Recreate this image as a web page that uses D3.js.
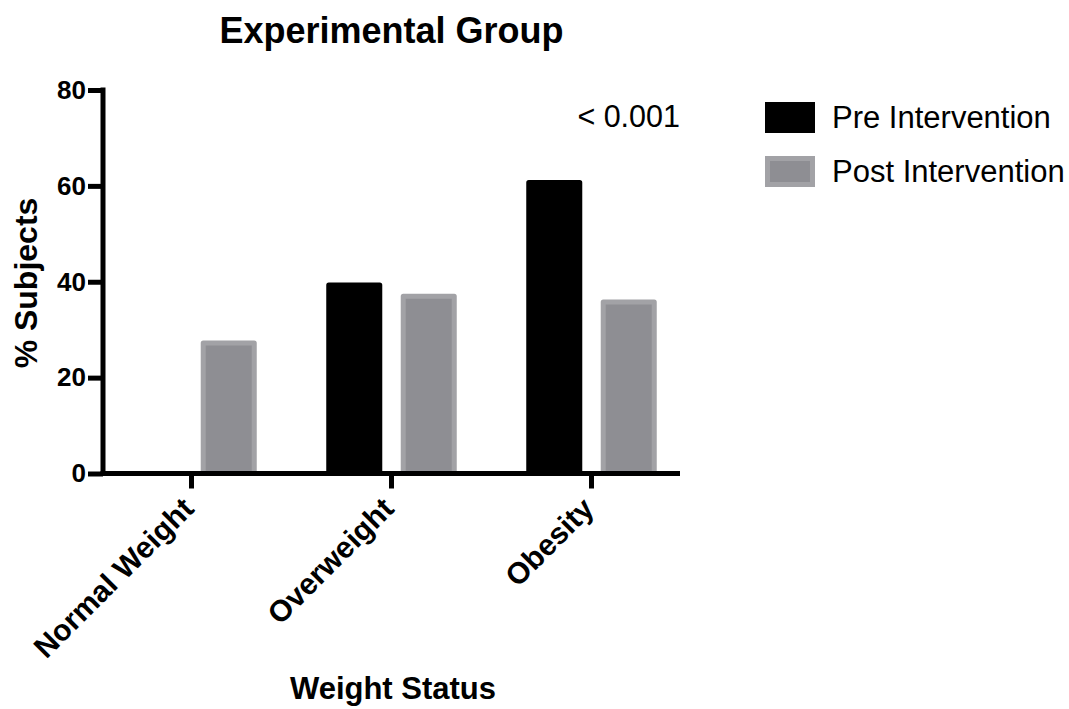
<!DOCTYPE html>
<html>
<head>
<meta charset="utf-8">
<script src="https://cdn.jsdelivr.net/npm/d3@7"></script>
<style>
  html, body { margin: 0; padding: 0; background: #fff; }
  svg { display: block; font-family: "Liberation Sans", Arial, Helvetica, sans-serif; }
</style>
</head>
<body>
<svg id="chart" width="1069" height="709"></svg>
<script>
// Weight status distribution, experimental group (% of subjects)
const categories = ["Normal Weight", "Overweight", "Obesity"];
const seriesNames = ["Pre Intervention", "Post Intervention"];
const preValues = [0, 39.3, 60.7];
const postValues = [27.2, 37.0, 35.8];
const yTicks = [0, 20, 40, 60, 80];
const pLabel = "< 0.001";

const svg = d3.select("#chart");

const fill = { "Pre Intervention": "#000000", "Post Intervention": "#8e8e93" };
const edge = { "Pre Intervention": "#000000", "Post Intervention": "#a2a2a6" };

const plotLeft = 103, plotRight = 680;
const y = d3.scaleLinear().domain([0, 80]).range([473.5, 90]);
const x0 = d3.scaleBand().domain(categories).range([91.5, 691.5]).padding(0);
const half = 62.75;
const x1 = d3.scaleBand().domain(seriesNames)
  .range([x0.bandwidth() / 2 - half, x0.bandwidth() / 2 + half])
  .paddingInner(0.315).paddingOuter(0);

const rows = categories.map((c, i) => ({
  category: c,
  values: [
    { series: seriesNames[0], value: preValues[i] },
    { series: seriesNames[1], value: postValues[i] }
  ]
}));

// Bars
const groups = svg.append("g").selectAll("g")
  .data(rows).join("g")
  .attr("transform", d => `translate(${x0(d.category)},0)`);

groups.selectAll("rect")
  .data(d => d.values).join("rect")
  .attr("x", d => x1(d.series))
  .attr("width", x1.bandwidth())
  .attr("y", d => y(d.value))
  .attr("height", d => y(0) - y(d.value))
  .attr("fill", d => fill[d.series])
  .attr("stroke", d => edge[d.series])
  .attr("stroke-width", 5)
  .attr("stroke-linejoin", "round");

// Y axis
const yAxis = svg.append("g")
  .attr("transform", `translate(${plotLeft},0)`)
  .call(d3.axisLeft(y).tickValues(yTicks).tickSize(15).tickSizeOuter(0).tickPadding(2));
yAxis.select(".domain").attr("stroke-width", 5).attr("stroke", "#000")
  .attr("d", `M0,${y(80) - 2.5}V${y(0) + 2.5}`);
yAxis.selectAll(".tick line").attr("stroke-width", 5).attr("stroke", "#000");
yAxis.selectAll(".tick text")
  .attr("fill", "#000")
  .style("font-size", "26px").style("font-weight", "bold");

// X axis
const xAxis = svg.append("g")
  .attr("transform", `translate(0,${y(0)})`)
  .call(d3.axisBottom(x0).tickSize(15).tickSizeOuter(0));
xAxis.select(".domain").attr("stroke-width", 5).attr("stroke", "#000")
  .attr("d", `M${plotLeft - 2.5},0H${plotRight}`);
xAxis.selectAll(".tick line").attr("stroke-width", 5).attr("stroke", "#000");
xAxis.selectAll(".tick text")
  .attr("fill", "#000")
  .attr("x", 0).attr("y", 0).attr("dy", 0)
  .attr("transform", "translate(4,37) rotate(-45)")
  .style("text-anchor", "end")
  .style("font-size", "30px").style("font-weight", "bold");

// Title and axis titles
svg.append("text")
  .attr("x", 391.5).attr("y", 43)
  .attr("text-anchor", "middle")
  .style("font-size", "36px").style("font-weight", "bold")
  .text("Experimental Group");

svg.append("text")
  .attr("transform", "translate(37,283) rotate(-90)")
  .attr("text-anchor", "middle")
  .style("font-size", "32px").style("font-weight", "bold")
  .text("% Subjects");

svg.append("text")
  .attr("x", 393).attr("y", 699)
  .attr("text-anchor", "middle")
  .style("font-size", "31px").style("font-weight", "bold")
  .text("Weight Status");

// Significance
svg.append("text")
  .attr("x", plotRight).attr("y", 127)
  .attr("text-anchor", "end")
  .style("font-size", "30.5px")
  .text(pLabel);

// Legend
const legend = svg.append("g").attr("transform", "translate(765,102)");
const items = legend.selectAll("g").data(seriesNames).join("g")
  .attr("transform", (d, i) => `translate(0,${i * 54})`);
items.append("rect")
  .attr("x", 2.5).attr("y", 2.5)
  .attr("width", 45).attr("height", 26)
  .attr("fill", d => fill[d])
  .attr("stroke", d => edge[d])
  .attr("stroke-width", 5);
items.append("text")
  .attr("x", 67).attr("y", 26)
  .style("font-size", "31px")
  .text(d => d);
</script>
</body>
</html>
